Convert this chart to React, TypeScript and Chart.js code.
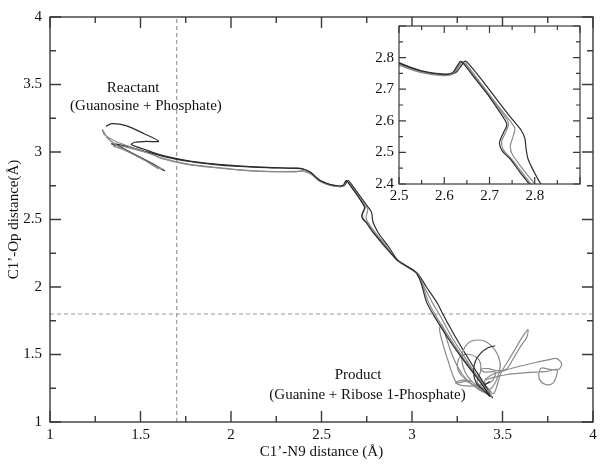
import React, { useEffect, useRef } from 'react';
import { Chart, registerables } from 'chart.js';

Chart.register(...registerables);

type Pt = [number, number];

// ---- Trajectories (C1'-N9 distance, C1'-Op distance) ----
const traj1: Pt[] = [
  [1.31, 3.19], [1.34, 3.21], [1.42, 3.195], [1.52, 3.135], [1.6, 3.08], [1.53, 3.078], [1.47, 3.072], [1.45, 3.055],
  [1.52, 3.02], [1.62, 2.975], [1.75, 2.938], [1.9, 2.912], [2.05, 2.896], [2.2, 2.886], [2.36, 2.88], [2.4, 2.874],
  [2.44, 2.85], [2.48, 2.802], [2.5, 2.784], [2.55, 2.758], [2.6, 2.748], [2.618, 2.752], [2.628, 2.772], [2.636, 2.788],
  [2.643, 2.78], [2.67, 2.73], [2.7, 2.675], [2.735, 2.6], [2.738, 2.585], [2.73, 2.56], [2.722, 2.53], [2.728, 2.505],
  [2.745, 2.48], [2.766, 2.44], [2.788, 2.4], [2.85, 2.3], [2.915, 2.205], [2.97, 2.155], [3.02, 2.11], [3.05, 2.03],
  [3.08, 1.89], [3.12, 1.79], [3.2, 1.62], [3.3, 1.43], [3.38, 1.29], [3.43, 1.19], [3.4, 1.23], [3.355, 1.29],
  [3.34, 1.37], [3.35, 1.45], [3.38, 1.51], [3.42, 1.55], [3.46, 1.565],
];
const traj2: Pt[] = [
  [1.62, 2.87], [1.55, 2.92], [1.45, 2.99], [1.38, 3.04], [1.32, 3.1], [1.29, 3.165], [1.3, 3.13], [1.36, 3.08],
  [1.44, 3.04], [1.53, 2.998], [1.62, 2.955], [1.75, 2.914], [1.9, 2.888], [2.05, 2.868], [2.2, 2.857], [2.36, 2.856],
  [2.4, 2.86], [2.44, 2.84], [2.48, 2.795], [2.5, 2.778], [2.55, 2.754], [2.6, 2.744], [2.62, 2.75], [2.632, 2.775],
  [2.64, 2.788], [2.648, 2.78], [2.68, 2.72], [2.72, 2.645], [2.748, 2.595], [2.756, 2.575], [2.752, 2.55], [2.746, 2.52],
  [2.75, 2.495], [2.772, 2.45], [2.8, 2.4], [2.86, 2.3], [2.915, 2.2], [2.97, 2.15], [3.025, 2.105], [3.06, 2.02],
  [3.11, 1.89], [3.15, 1.8], [3.22, 1.63], [3.31, 1.44], [3.39, 1.28], [3.44, 1.19], [3.38, 1.24], [3.3, 1.3],
  [3.25, 1.29], [3.23, 1.33], [3.2, 1.45], [3.17, 1.58], [3.152, 1.69], [3.165, 1.72], [3.19, 1.62], [3.23, 1.47],
  [3.28, 1.35], [3.34, 1.27], [3.4, 1.22], [3.45, 1.27], [3.48, 1.36], [3.487, 1.44], [3.46, 1.53], [3.4, 1.6],
  [3.33, 1.6], [3.29, 1.55], [3.275, 1.47], [3.29, 1.38], [3.33, 1.3], [3.38, 1.25],
];
const traj3: Pt[] = [
  [1.635, 2.86], [1.55, 2.925], [1.45, 2.995], [1.37, 3.05], [1.34, 3.06], [1.4, 3.05], [1.5, 3.015], [1.62, 2.97],
  [1.75, 2.934], [1.9, 2.909], [2.05, 2.893], [2.2, 2.884], [2.36, 2.878], [2.4, 2.872], [2.44, 2.848], [2.48, 2.8],
  [2.5, 2.782], [2.55, 2.756], [2.6, 2.746], [2.625, 2.752], [2.638, 2.775], [2.646, 2.789], [2.653, 2.782], [2.68, 2.735],
  [2.72, 2.66], [2.75, 2.605], [2.77, 2.57], [2.778, 2.545], [2.781, 2.51], [2.785, 2.48], [2.798, 2.44], [2.814, 2.4],
  [2.87, 2.3], [2.92, 2.2], [2.975, 2.15], [3.03, 2.1], [3.08, 2.0], [3.14, 1.88], [3.17, 1.8], [3.24, 1.63],
  [3.32, 1.45], [3.4, 1.28], [3.445, 1.18], [3.42, 1.22], [3.4, 1.27], [3.43, 1.3],
];
const traj4: Pt[] = [
  [1.6, 2.875], [1.5, 2.955], [1.4, 3.02], [1.35, 3.045], [1.37, 3.048], [1.47, 3.02], [1.56, 2.985], [1.62, 2.95],
  [1.75, 2.91], [1.9, 2.885], [2.05, 2.866], [2.2, 2.855], [2.36, 2.853], [2.4, 2.858], [2.44, 2.838], [2.48, 2.793],
  [2.5, 2.776], [2.55, 2.752], [2.6, 2.743], [2.62, 2.749], [2.634, 2.776], [2.641, 2.787], [2.648, 2.778], [2.67, 2.735],
  [2.7, 2.68], [2.738, 2.605], [2.742, 2.588], [2.735, 2.562], [2.727, 2.535], [2.73, 2.51], [2.748, 2.48], [2.77, 2.44],
  [2.792, 2.4], [2.855, 2.3], [2.915, 2.203], [2.97, 2.152], [3.022, 2.108], [3.055, 2.03], [3.09, 1.89], [3.13, 1.79],
  [3.21, 1.62], [3.3, 1.44], [3.38, 1.3], [3.435, 1.19], [3.41, 1.24], [3.403, 1.31], [3.45, 1.355], [3.52, 1.385],
  [3.6, 1.415], [3.68, 1.44], [3.75, 1.46], [3.8, 1.47], [3.827, 1.43], [3.81, 1.39], [3.76, 1.39], [3.715, 1.4],
  [3.7, 1.35], [3.712, 1.3], [3.745, 1.275], [3.78, 1.29], [3.798, 1.34], [3.8, 1.39], [3.75, 1.375], [3.68, 1.37],
  [3.6, 1.362], [3.52, 1.35], [3.45, 1.33], [3.4, 1.31],
];
const traj5: Pt[] = [
  [3.3, 1.45], [3.36, 1.34], [3.42, 1.25], [3.45, 1.21], [3.47, 1.27], [3.49, 1.36], [3.53, 1.45], [3.57, 1.54],
  [3.61, 1.63], [3.64, 1.685], [3.635, 1.63], [3.6, 1.56], [3.56, 1.47], [3.52, 1.39], [3.47, 1.38], [3.42, 1.395],
  [3.38, 1.39], [3.4, 1.37], [3.46, 1.37], [3.44, 1.3], [3.36, 1.27], [3.28, 1.27], [3.24, 1.29], [3.28, 1.31], [3.33, 1.3],
];
const traj6: Pt[] = [
  [3.44, 1.19], [3.4, 1.22], [3.33, 1.28], [3.27, 1.35], [3.25, 1.42], [3.27, 1.49], [3.32, 1.5], [3.37, 1.46],
  [3.38, 1.38], [3.36, 1.3], [3.4, 1.24],
];

const trajectories: Pt[][] = [traj1, traj2, traj3, traj4, traj5, traj6];
const trajDark = [true, false, true, false, false, false];

// Reference lines
const cutoffN9 = 1.7;
const cutoffOp = 1.8;

// ---- Axes ----
const mainRange = { xMin: 1, xMax: 4, yMin: 1, yMax: 4 };
const mainXTicks = [1, 1.5, 2, 2.5, 3, 3.5, 4];
const mainXLabels = ['1', '1.5', '2', '2.5', '3', '3.5', '4'];
const mainXMinor = [1.25, 1.75, 2.25, 2.75, 3.25, 3.75];
const mainYTicks = [1, 1.5, 2, 2.5, 3, 3.5, 4];
const mainYLabels = ['1', '1.5', '2', '2.5', '3', '3.5', '4'];
const mainYMinor = [1.25, 1.75, 2.25, 2.75, 3.25, 3.75];

const insetRange = { xMin: 2.5, xMax: 2.9, yMin: 2.4, yMax: 2.9 };
const insetXTicks = [2.5, 2.6, 2.7, 2.8, 2.9];
const insetXLabels = ['2.5', '2.6', '2.7', '2.8', ''];
const insetXMinor = [2.55, 2.65, 2.75, 2.85];
const insetYTicks = [2.4, 2.5, 2.6, 2.7, 2.8, 2.9];
const insetYLabels = ['2.4', '2.5', '2.6', '2.7', '2.8', ''];
const insetYMinor = [2.45, 2.55, 2.65, 2.75, 2.85];

const xTitle = 'C1’-N9 distance (Å)';
const yTitle = 'C1’-Op distance(Å)';

const annotationTexts = ['Reactant', '(Guanosine + Phosphate)', 'Product', '(Guanine + Ribose 1-Phosphate)'];
const annotationX = [1.459, 1.53, 2.702, 2.754];
const annotationY = [3.475, 3.337, 1.35, 1.197];

const FONT = '"Liberation Serif", "Times New Roman", serif';
const FS = 15;
const DARK = '#2b2b2b';
const LIGHT = '#8a8a8a';
const AXIS = '#3a3a3a';

function trajDatasets(width: number) {
  return trajectories.map((t, i) => ({
    data: t.map(([x, y]) => ({ x, y })),
    showLine: true,
    borderColor: trajDark[i] ? DARK : LIGHT,
    borderWidth: width,
    pointRadius: 0,
    tension: 0.3,
    fill: false,
  }));
}

function framePlugin(id: string, xMajor: number[], xMinor: number[], yMajor: number[], yMinor: number[], majLen: number, minLen: number, lw: number) {
  return {
    id,
    afterDatasetsDraw(chart: any) {
      const { ctx, chartArea: a, scales } = chart;
      const sx = scales.x;
      const sy = scales.y;
      ctx.save();
      ctx.strokeStyle = AXIS;
      ctx.lineWidth = lw;
      ctx.beginPath();
      const doX = (vals: number[], len: number) =>
        vals.forEach((v) => {
          const p = sx.getPixelForValue(v);
          ctx.moveTo(p, a.bottom);
          ctx.lineTo(p, a.bottom - len);
          ctx.moveTo(p, a.top);
          ctx.lineTo(p, a.top + len);
        });
      const doY = (vals: number[], len: number) =>
        vals.forEach((v) => {
          const p = sy.getPixelForValue(v);
          ctx.moveTo(a.left, p);
          ctx.lineTo(a.left + len, p);
          ctx.moveTo(a.right, p);
          ctx.lineTo(a.right - len, p);
        });
      doX(xMajor, majLen);
      doX(xMinor, minLen);
      doY(yMajor, majLen);
      doY(yMinor, minLen);
      ctx.stroke();
      ctx.strokeRect(a.left, a.top, a.right - a.left, a.bottom - a.top);
      ctx.restore();
    },
  };
}

const annotationPlugin = {
  id: 'annot',
  afterDraw(chart: any) {
    const { ctx, scales } = chart;
    ctx.save();
    ctx.fillStyle = '#111';
    ctx.font = `${FS}px ${FONT}`;
    ctx.textAlign = 'center';
    ctx.textBaseline = 'middle';
    annotationTexts.forEach((t, i) => {
      ctx.fillText(t, scales.x.getPixelForValue(annotationX[i]), scales.y.getPixelForValue(annotationY[i]));
    });
    ctx.restore();
  },
};

const whiteAreaPlugin = {
  id: 'whiteArea',
  beforeDraw(chart: any) {
    const { ctx, chartArea: a } = chart;
    ctx.save();
    ctx.fillStyle = '#fff';
    ctx.fillRect(a.left, a.top, a.right - a.left, a.bottom - a.top);
    ctx.restore();
  },
};

function axis(min: number, max: number, ticks: number[], labels: string[], fitSize: number, horizontal: boolean, pad: number, fontSize: number, title?: any) {
  return {
    type: 'linear',
    min,
    max,
    grid: { display: false, drawTicks: false },
    border: { display: false },
    afterBuildTicks: (s: any) => {
      s.ticks = ticks.map((v) => ({ value: v }));
    },
    afterFit: (s: any) => {
      if (horizontal) s.height = fitSize;
      else s.width = fitSize;
    },
    ticks: {
      padding: pad,
      autoSkip: false,
      maxRotation: 0,
      color: '#111',
      font: { family: FONT, size: fontSize },
      callback: (v: number) => {
        const i = ticks.findIndex((t) => Math.abs(t - v) < 1e-6);
        return i >= 0 ? labels[i] : '';
      },
    },
    title: title || { display: false },
  };
}

export default function App() {
  const mainRef = useRef<HTMLCanvasElement>(null);
  const insetRef = useRef<HTMLCanvasElement>(null);

  useEffect(() => {
    document.body.style.margin = '0';
    const main = new Chart(mainRef.current as HTMLCanvasElement, {
      type: 'scatter',
      data: {
        datasets: [
          ...trajDatasets(1.2),
          {
            data: [{ x: cutoffN9, y: mainRange.yMin }, { x: cutoffN9, y: mainRange.yMax }],
            showLine: true, borderColor: '#9a9a9a', borderWidth: 1.2, borderDash: [4, 3], pointRadius: 0,
          },
          {
            data: [{ x: mainRange.xMin, y: cutoffOp }, { x: mainRange.xMax, y: cutoffOp }],
            showLine: true, borderColor: '#9a9a9a', borderWidth: 1.2, borderDash: [4, 3], pointRadius: 0,
          },
        ] as any,
      },
      options: {
        animation: false,
        responsive: false,
        layout: { padding: { top: 10, right: 9, left: 0, bottom: 0 } },
        plugins: { legend: { display: false }, tooltip: { enabled: false } },
        scales: {
          x: axis(mainRange.xMin, mainRange.xMax, mainXTicks, mainXLabels, 43, true, 4, FS, {
            display: true, text: xTitle, color: '#111', font: { family: FONT, size: FS }, padding: { top: 0, bottom: 4 },
          }),
          y: axis(mainRange.yMin, mainRange.yMax, mainYTicks, mainYLabels, 50, false, 8, FS, {
            display: true, text: yTitle, color: '#111', font: { family: FONT, size: FS }, padding: { top: 5, bottom: 0 },
          }),
        } as any,
      },
      plugins: [framePlugin('mainFrame', mainXTicks, mainXMinor, mainYTicks, mainYMinor, 11, 6, 1.4), annotationPlugin],
    });

    const inset = new Chart(insetRef.current as HTMLCanvasElement, {
      type: 'scatter',
      data: { datasets: trajDatasets(1.2) as any },
      options: {
        animation: false,
        responsive: false,
        layout: { padding: { top: 13, right: 15, left: 0, bottom: 0 } },
        plugins: { legend: { display: false }, tooltip: { enabled: false } },
        scales: {
          x: axis(insetRange.xMin, insetRange.xMax, insetXTicks, insetXLabels, 28, true, 3, FS),
          y: axis(insetRange.yMin, insetRange.yMax, insetYTicks, insetYLabels, 44, false, 5, FS),
        } as any,
      },
      plugins: [whiteAreaPlugin, framePlugin('insetFrame', insetXTicks, insetXMinor, insetYTicks, insetYMinor, 7, 4, 1.2)],
    });

    return () => {
      main.destroy();
      inset.destroy();
    };
  }, []);

  return (
    <div style={{ position: 'relative', width: 602, height: 465, background: '#fff' }}>
      <canvas ref={mainRef} width={602} height={465} style={{ position: 'absolute', left: 0, top: 0, display: 'block' }} />
      <canvas ref={insetRef} width={240} height={200} style={{ position: 'absolute', left: 355, top: 12, display: 'block' }} />
    </div>
  );
}
